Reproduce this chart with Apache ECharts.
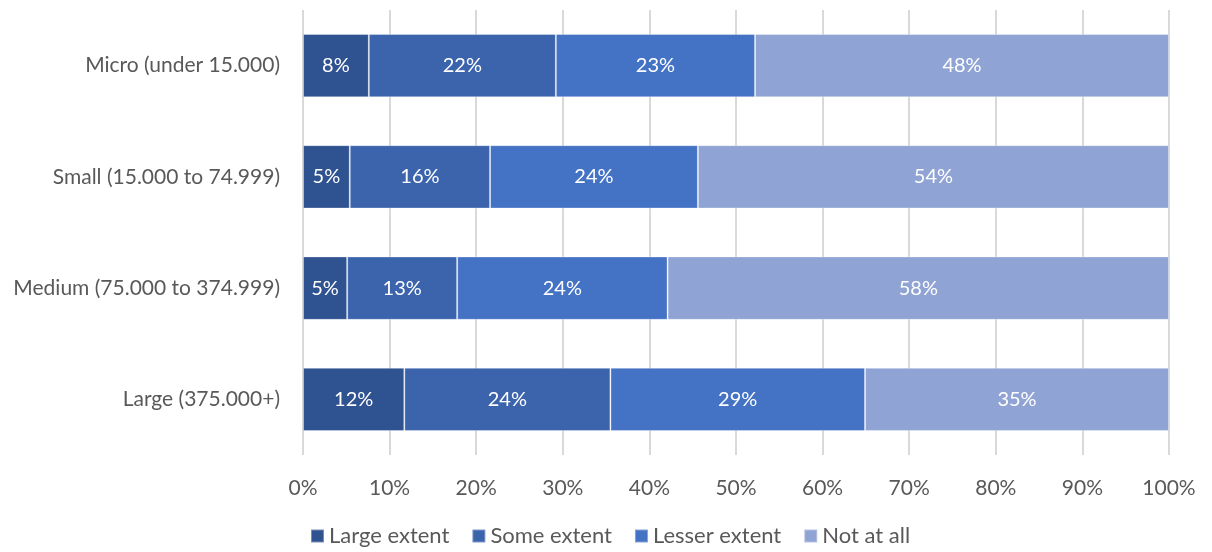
<!DOCTYPE html>
<html><head><meta charset="utf-8">
<script src="https://cdn.jsdelivr.net/npm/echarts@6/dist/echarts.min.js"></script>
<style>html,body{margin:0;padding:0;background:#fff}#c{width:1212px;height:552px}</style>
</head><body><div id="c"></div>
<script>
var categories = ['Micro (under 15.000)', 'Small (15.000 to 74.999)', 'Medium (75.000 to 374.999)', 'Large (375.000+)'];
var seriesNames = ['Large extent', 'Some extent', 'Lesser extent', 'Not at all'];
var largeExtent = [7.6, 5.4, 5.1, 11.7];
var someExtent = [21.6, 16.2, 12.7, 23.8];
var lesserExtent = [23.0, 24.0, 24.3, 29.4];
var notAtAll = [47.8, 54.4, 57.9, 35.1];
var xTicks = [0, 10, 20, 30, 40, 50, 60, 70, 80, 90, 100];

var colors = ['#2F5290', '#3B64AD', '#4472C4', '#8FA3D4'];
var values = [largeExtent, someExtent, lesserExtent, notAtAll];
var font = 'Lato, "Open Sans", sans-serif';

var chart = echarts.init(document.getElementById('c'));
chart.setOption({
  animation: false,
  color: colors,
  grid: {left: 303, right: 43, top: 10, bottom: 97, containLabel: false},
  legend: {
    bottom: 0, left: 305, itemWidth: 13, itemHeight: 13, itemGap: 22, icon: 'rect',
    textStyle: {color: '#595959', fontSize: 22, fontFamily: font},
    data: seriesNames
  },
  xAxis: {
    type: 'value', min: 0, max: 100, interval: 10,
    axisLine: {show: false}, axisTick: {show: false},
    splitLine: {lineStyle: {color: '#d9d9d9', width: 2}},
    axisLabel: {formatter: function(v){ return xTicks.indexOf(v) >= 0 ? v + '%' : ''; },
      color: '#595959', fontSize: 21, fontFamily: font, margin: 23}
  },
  yAxis: {
    type: 'category', data: categories, inverse: true,
    axisLine: {show: false}, axisTick: {show: false},
    axisLabel: {color: '#595959', fontSize: 21, fontFamily: font, margin: 23}
  },
  series: seriesNames.map(function(n, i){
    return {
      name: n, type: 'bar', stack: 'total', barWidth: '57%',
      data: values[i],
      itemStyle: {color: colors[i], borderColor: 'rgba(255,255,255,0.35)', borderWidth: 1},
      label: {show: true, position: 'inside', color: '#ffffff', fontSize: 20, fontFamily: font,
        formatter: function(p){ return Math.round(p.value) + '%'; }}
    };
  })
});
</script></body></html>
